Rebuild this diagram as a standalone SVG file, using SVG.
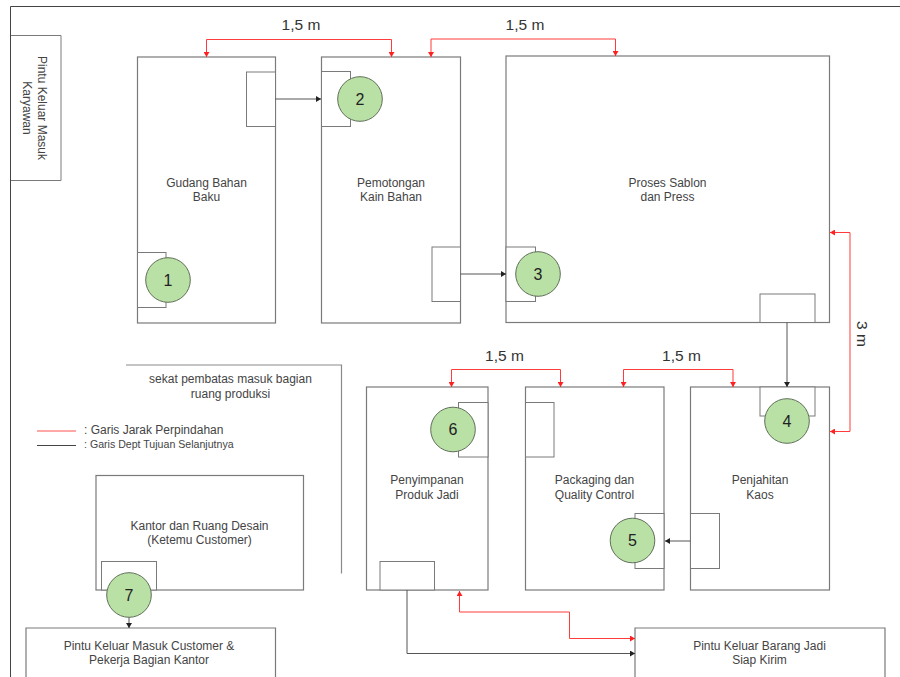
<svg xmlns="http://www.w3.org/2000/svg" width="900" height="677" viewBox="0 0 900 677">
<style>
.room{fill:#fff;stroke:#7a7a7a;stroke-width:1.2}
.door{fill:#fff;stroke:#7a7a7a;stroke-width:1}
.num{fill:#b9e0a5;stroke:#5f6f58;stroke-width:1}
text{font-family:"Liberation Sans",Arial,sans-serif;fill:#444;text-anchor:middle}
.t{font-size:12px}
.n{font-size:16px;fill:#222}
.d{font-size:15.500px;fill:#333}
.red{fill:none;stroke:#ff3b3b;stroke-width:1;marker-end:url(#ar)}
.redb{marker-start:url(#ars)}
.blk{fill:none;stroke:#555;stroke-width:1;marker-end:url(#ab)}
</style>
<defs>
<marker id="ar" markerUnits="userSpaceOnUse" markerWidth="6" markerHeight="6" refX="5" refY="3" orient="auto"><path d="M0 0L5 3L0 6z" fill="#ff2020"/></marker>
<marker id="ars" markerUnits="userSpaceOnUse" markerWidth="6" markerHeight="6" refX="0" refY="3" orient="auto"><path d="M5 0L0 3L5 6z" fill="#ff2020"/></marker>
<marker id="ab" markerUnits="userSpaceOnUse" markerWidth="6" markerHeight="6" refX="5" refY="3" orient="auto"><path d="M0 0L5 3L0 6z" fill="#222"/></marker>
</defs>
<rect width="900" height="677" fill="#fff"/>
<g id="exit-staff"><path d="M10 35.500H61V180.500H10" fill="none" stroke="#7a7a7a" stroke-width="1"/>
<text class="t" transform="translate(37.500,108) rotate(90)">Pintu Keluar Masuk</text><text class="t" transform="translate(23,108) rotate(90)">Karyawan</text></g>
<path id="frame" d="M10.500 677V6.500H900" fill="none" stroke="#444" stroke-width="1"/>
<g id="gudang"><rect class="room" x="137.500" y="57" width="138" height="266"/><rect class="door" x="246.500" y="72" width="29" height="54.500"/><rect class="door" x="137.500" y="252.500" width="28.500" height="55"/><text class="t" x="206.500" y="186.500">Gudang Bahan</text><text class="t" x="206.500" y="201">Baku</text><circle class="num" cx="168" cy="280" r="22.300"/><text class="n" x="168" y="285.500">1</text></g>
<g id="pemotongan"><rect class="room" x="321.500" y="57" width="139" height="266"/><rect class="door" x="321.500" y="71.500" width="29" height="55"/><rect class="door" x="432" y="247" width="28.500" height="54.500"/><text class="t" x="391" y="186.500">Pemotongan</text><text class="t" x="391" y="201">Kain Bahan</text><circle class="num" cx="360" cy="99" r="22.300"/><text class="n" x="360" y="104.500">2</text></g>
<g id="sablon"><rect class="room" x="506" y="56" width="323.500" height="266.500"/><rect class="door" x="506" y="247" width="29.500" height="54.500"/><rect class="door" x="760" y="294" width="55" height="28.500"/><text class="t" x="667.500" y="186.500">Proses Sablon</text><text class="t" x="667.500" y="201">dan Press</text><circle class="num" cx="538" cy="274" r="22.300"/><text class="n" x="538" y="279.500">3</text></g>
<g id="penyimpanan"><rect class="room" x="366.500" y="387" width="121.500" height="203"/><rect class="door" x="458.500" y="402.500" width="29.500" height="54.500"/><rect class="door" x="380" y="561.500" width="54.500" height="28.500"/><text class="t" x="427" y="484">Penyimpanan</text><text class="t" x="427" y="498.500">Produk Jadi</text><circle class="num" cx="453" cy="429.500" r="22.300"/><text class="n" x="453" y="435">6</text></g>
<g id="packaging"><rect class="room" x="525.500" y="387" width="138.500" height="203"/><rect class="door" x="525.500" y="402.500" width="28.500" height="54.500"/><rect class="door" x="635" y="513.500" width="29" height="55"/><text class="t" x="594.500" y="484">Packaging dan</text><text class="t" x="594.500" y="498.500">Quality Control</text><circle class="num" cx="632.500" cy="540.500" r="22.300"/><text class="n" x="632.500" y="546">5</text></g>
<g id="penjahitan"><rect class="room" x="690.500" y="387" width="139" height="203"/><rect class="door" x="760" y="387" width="55" height="29"/><rect class="door" x="690.500" y="513.500" width="29" height="55"/><text class="t" x="760" y="484">Penjahitan</text><text class="t" x="760" y="498.500">Kaos</text><circle class="num" cx="787" cy="421" r="22.300"/><text class="n" x="787" y="426.500">4</text></g>
<g id="kantor"><rect class="room" x="96" y="475.500" width="207.500" height="114.500"/><rect class="door" x="101.500" y="561.500" width="55" height="28.500"/><text class="t" x="199.500" y="529.500">Kantor dan Ruang Desain</text><text class="t" x="199.500" y="544">(Ketemu Customer)</text><circle class="num" cx="129" cy="595" r="22.300"/><text class="n" x="129" y="600.500">7</text></g>
<g id="exit-customer"><path class="room" d="M26 677V628H275.500V677"/><text class="t" x="149" y="649.500">Pintu Keluar Masuk Customer &amp;</text><text class="t" x="149" y="664">Pekerja Bagian Kantor</text></g>
<g id="exit-goods"><path class="room" d="M635 677V628H885V677"/><text class="t" x="759.500" y="649.500">Pintu Keluar Barang Jadi</text><text class="t" x="759.500" y="664">Siap Kirim</text></g>
<g id="partition"><path d="M126 365H341.500V573.500" fill="none" stroke="#8a8a8a" stroke-width="1.200"/><text class="t" x="230.500" y="383">sekat pembatas masuk bagian</text><text class="t" x="230.500" y="398">ruang produksi</text></g>
<g id="legend"><path d="M37 431H76" stroke="#ff5050" stroke-width="1"/><path d="M37 445.500H76" stroke="#444" stroke-width="1"/><text x="84" y="434" style="text-anchor:start;font-size:12px">: Garis Jarak Perpindahan</text><text x="84" y="448" style="text-anchor:start;font-size:10.600px">: Garis Dept Tujuan Selanjutnya</text></g>
<g id="labels"><text class="d" x="301" y="30">1,5 m</text><text class="d" x="525" y="30">1,5 m</text><text class="d" x="504.500" y="361">1,5 m</text><text class="d" x="681.500" y="361">1,5 m</text><text class="d" transform="translate(856.500,334) rotate(90)">3 m</text></g>
<g id="connectors">
<path class="red redb" d="M206.500 57V39.500H391.500V57"/>
<path class="red redb" d="M431 57V39H615.500V56"/>
<path class="red redb" d="M451.500 387V369.500H560.500V387"/>
<path class="red redb" d="M623.500 387V369.500H733V387"/>
<path class="red redb" d="M830 232.500H850V431.500H830"/>
<path class="red redb" d="M459.500 591V612H569.500V638.500H635"/>
<path class="blk" d="M275 99H321"/>
<path class="blk" d="M460.500 274H506"/>
<path class="blk" d="M787 322.500V387"/>
<path class="blk" d="M690.500 541H665"/>
<path class="blk" d="M407 590V653.500H635"/>
<path class="blk" d="M129 617.500V628"/>
</g>
</svg>
